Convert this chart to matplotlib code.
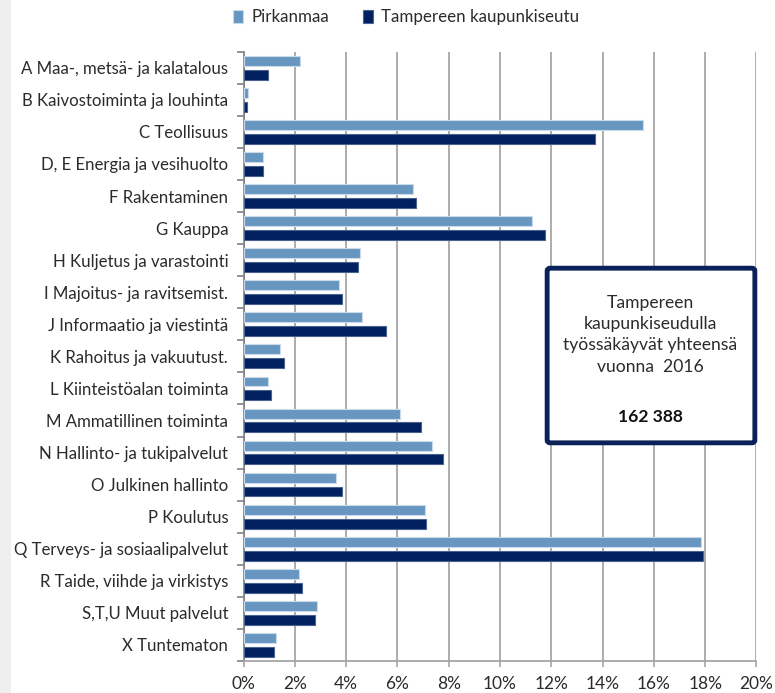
import matplotlib
matplotlib.use("Agg")
import matplotlib.pyplot as plt
from matplotlib.patches import Rectangle, FancyBboxPatch
from matplotlib.ticker import FuncFormatter, MultipleLocator
import numpy as np

plt.rcParams['font.family'] = ['Lato', 'DejaVu Sans']

categories = [
    "A Maa-, metsä- ja kalatalous",
    "B Kaivostoiminta ja louhinta",
    "C Teollisuus",
    "D, E Energia ja vesihuolto",
    "F Rakentaminen",
    "G Kauppa",
    "H Kuljetus ja varastointi",
    "I Majoitus- ja ravitsemist.",
    "J Informaatio ja viestintä",
    "K Rahoitus ja vakuutust.",
    "L Kiinteistöalan toiminta",
    "M Ammatillinen toiminta",
    "N Hallinto- ja tukipalvelut",
    "O Julkinen hallinto",
    "P Koulutus",
    "Q Terveys- ja sosiaalipalvelut",
    "R Taide, viihde ja virkistys",
    "S,T,U Muut palvelut",
    "X Tuntematon",
]
pirkanmaa = [2.22, 0.16, 15.56, 0.77, 6.60, 11.23, 4.53, 3.73, 4.63, 1.43, 0.96,
             6.09, 7.34, 3.61, 7.08, 17.84, 2.16, 2.85, 1.25]
tampere = [0.96, 0.12, 13.72, 0.77, 6.73, 11.77, 4.48, 3.83, 5.56, 1.57, 1.06,
           6.93, 7.76, 3.84, 7.13, 17.90, 2.28, 2.79, 1.17]

light = "#6797C1"
dark = "#00205F"
txt = "#2b2b2b"

fig = plt.figure(figsize=(7.75, 6.93), dpi=100)
fig.patches.append(Rectangle((0, 0), 11 / 775, 1, transform=fig.transFigure,
                             facecolor="#EFEFEF", edgecolor="none", zorder=0))
ax = fig.add_axes([0.3142, 0.0462, 0.9761 - 0.3142, 0.9254 - 0.0462])

y = np.arange(len(categories))
h = 0.31
ax.barh(y - 0.215, pirkanmaa, height=h, color=light, edgecolor="#C9DAEA",
        linewidth=0.8, label="Pirkanmaa", zorder=3)
ax.barh(y + 0.215, tampere, height=h, color=dark, edgecolor="#4A6290",
        linewidth=0.8, label="Tampereen kaupunkiseutu", zorder=3)

ax.set_xlim(0, 20)
ax.set_ylim(len(categories) - 0.5, -0.5)
ax.xaxis.set_major_locator(MultipleLocator(2))
ax.xaxis.set_major_formatter(FuncFormatter(lambda v, p: f"{v:.0f}%"))
ax.grid(axis="x", color="#A6A6A6", linewidth=1.3, zorder=0)

ax.set_yticks(y)
ax.set_yticklabels(categories)
ax.set_yticks(np.arange(len(categories) + 1) - 0.5, minor=True)
ax.tick_params(axis="y", which="major", length=0, pad=11, labelsize=12.1, labelcolor=txt)
ax.tick_params(axis="y", which="minor", length=5, width=1.2, color="#808080")
ax.tick_params(axis="x", length=4, width=1.2, color="#A6A6A6", labelsize=12.5,
               labelcolor=txt, pad=7)

for s in ["top", "right"]:
    ax.spines[s].set_visible(False)
ax.spines["left"].set_color("#808080")
ax.spines["left"].set_linewidth(1.2)
ax.spines["bottom"].set_color("#A6A6A6")
ax.spines["bottom"].set_linewidth(1.3)

fig.legend(loc="center", bbox_to_anchor=(0.524, 0.975), ncol=2, frameon=False,
           handlelength=0.6, handleheight=0.8, columnspacing=2.0, handletextpad=0.5,
           fontsize=12.2, labelcolor=txt)

box = FancyBboxPatch((0.706, 0.361), 0.974 - 0.706, 0.613 - 0.361,
                     boxstyle="round,pad=0,rounding_size=0.004",
                     transform=fig.transFigure, facecolor="white",
                     edgecolor="#0A2159", linewidth=3.5, zorder=5)
fig.patches.append(box)
fig.text(0.839, 0.517, "Tampereen\nkaupunkiseudulla\ntyössäkäyvät yhteensä\nvuonna  2016",
         ha="center", va="center", fontsize=12.6, color=txt, linespacing=1.4, zorder=6)
fig.text(0.839, 0.398, "162 388", ha="center", va="center", fontsize=12.6,
         fontweight="bold", color="#111111", zorder=6)

fig.savefig("out.png", dpi=100)
